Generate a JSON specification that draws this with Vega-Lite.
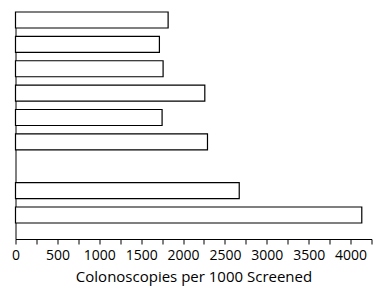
{
  "$schema": "https://vega.github.io/schema/vega-lite/v6.json",
  "autosize": "none",
  "width": 356,
  "height": 227,
  "padding": {"left": 15.5, "top": 12, "right": 8.5, "bottom": 52},
  "background": "white",
  "config": {"view": {"stroke": null}},
  "data": {"values": [
    {"group": "g1", "value": 1822},
    {"group": "g2", "value": 1718},
    {"group": "g3", "value": 1762},
    {"group": "g4", "value": 2260},
    {"group": "g5", "value": 1750},
    {"group": "g6", "value": 2292},
    {"group": "g8", "value": 2671},
    {"group": "g9", "value": 4134}
  ]},
  "mark": {"type": "bar", "fill": "white", "stroke": "black", "strokeWidth": 1.2},
  "encoding": {
    "y": {
      "field": "group", "type": "nominal",
      "scale": {"domain": ["g1","g2","g3","g4","g5","g6","g7","g8","g9"], "paddingInner": 0.344, "paddingOuter": 0.328, "align": 0},
      "axis": {"title": null, "labels": false, "ticks": false, "domainColor": "black", "domainWidth": 1}
    },
    "x": {
      "field": "value", "type": "quantitative",
      "scale": {"domain": [0, 4250], "nice": false},
      "axis": {
        "title": "Colonoscopies per 1000 Screened",
        "values": [0,250,500,750,1000,1250,1500,1750,2000,2250,2500,2750,3000,3250,3500,3750,4000,4250],
        "format": "d",
        "labelExpr": "datum.value % 500 === 0 && datum.value <= 4000 ? datum.label : ''",
        "labelFlush": false,
        "labelOverlap": false,
        "grid": false,
        "domainColor": "black",
        "tickColor": "black",
        "tickSize": 5,
        "labelFont": "Open Sans",
        "labelFontSize": 14,
        "labelColor": "black",
        "labelPadding": 4,
        "titleFont": "Open Sans",
        "titleFontSize": 15,
        "titleFontWeight": "normal",
        "titleColor": "black",
        "titlePadding": 7
      }
    }
  }
}
